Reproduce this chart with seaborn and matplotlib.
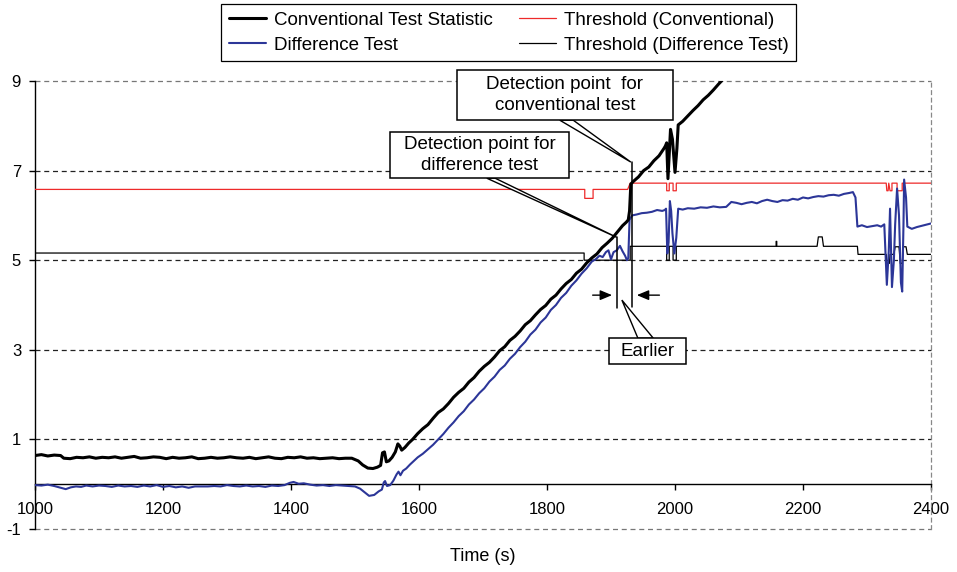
import matplotlib
matplotlib.use("Agg")
import matplotlib.pyplot as plt
import seaborn as sns
from matplotlib.patches import Rectangle, Polygon

# ---- Conventional test statistic ----
conv_t = [1000, 1010, 1020, 1030, 1040, 1045, 1055, 1065, 1075, 1085, 1095, 1105, 1115,
          1125, 1135, 1145, 1155, 1165, 1175, 1185, 1195, 1205, 1215, 1225, 1235, 1245,
          1255, 1265, 1275, 1285, 1295, 1305, 1315, 1325, 1335, 1345, 1355, 1365, 1375,
          1385, 1395, 1405, 1415, 1425, 1435, 1445, 1455, 1465, 1475, 1485, 1495, 1505,
          1512, 1520, 1528, 1535, 1540, 1543, 1546, 1549, 1553, 1558, 1563, 1567, 1570,
          1573, 1578, 1584, 1590, 1598, 1606, 1614, 1622, 1630, 1638, 1646, 1654, 1662,
          1670, 1678, 1686, 1694, 1702, 1710, 1718, 1726, 1734, 1742, 1750, 1758, 1766,
          1774, 1782, 1790, 1798, 1806, 1814, 1822, 1830, 1838, 1846, 1854, 1862, 1870,
          1878, 1886, 1894, 1902, 1910, 1918, 1924, 1927, 1929, 1931, 1935, 1943, 1951,
          1959, 1967, 1975, 1983, 1985, 1987, 1989, 1991, 1993, 1996, 2000, 2003, 2005,
          2012, 2020, 2028, 2036, 2044, 2052, 2060, 2068, 2076, 2090]
conv_v = [0.64, 0.66, 0.63, 0.65, 0.64, 0.58, 0.57, 0.60, 0.59, 0.61, 0.58, 0.60, 0.59,
          0.61, 0.58, 0.60, 0.62, 0.58, 0.59, 0.61, 0.60, 0.57, 0.60, 0.58, 0.59, 0.61,
          0.57, 0.58, 0.60, 0.58, 0.59, 0.61, 0.59, 0.58, 0.60, 0.57, 0.59, 0.61, 0.58,
          0.57, 0.60, 0.59, 0.61, 0.58, 0.59, 0.57, 0.58, 0.59, 0.57, 0.58, 0.58, 0.52,
          0.43, 0.36, 0.35, 0.38, 0.42, 0.70, 0.72, 0.50, 0.52, 0.60, 0.72, 0.90, 0.85,
          0.76, 0.82, 0.92, 1.00, 1.13, 1.24, 1.33, 1.47, 1.60, 1.68, 1.80, 1.94, 2.05,
          2.14, 2.28, 2.38, 2.52, 2.63, 2.72, 2.84, 2.98, 3.07, 3.21, 3.30, 3.42, 3.56,
          3.65, 3.78, 3.90, 3.99, 4.13, 4.22, 4.36, 4.48, 4.57, 4.71, 4.80, 4.94, 5.05,
          5.14, 5.28, 5.38, 5.49, 5.63, 5.77, 5.85, 5.90, 6.10, 6.70, 6.76, 6.86, 7.00,
          7.08, 7.22, 7.33, 7.50, 7.55, 7.62, 6.82, 7.35, 7.92, 7.70, 6.96, 7.50, 8.02,
          8.10, 8.22, 8.34, 8.45, 8.58, 8.68, 8.80, 8.93, 9.05, 9.25]

# ---- Difference test statistic ----
diff_t = [1000, 1010, 1020, 1030, 1040, 1048, 1056, 1064, 1072, 1080, 1090, 1100, 1110,
          1120, 1130, 1140, 1150, 1160, 1170, 1180, 1190, 1200, 1210, 1220, 1230, 1240,
          1250, 1260, 1270, 1280, 1290, 1300, 1310, 1320, 1330, 1340, 1350, 1360, 1370,
          1380, 1390, 1398, 1404, 1412, 1420, 1430, 1440, 1450, 1460, 1470, 1480, 1490,
          1500, 1508, 1515, 1522, 1530, 1537, 1542, 1545, 1547, 1550, 1555, 1560, 1565,
          1568, 1571, 1575, 1580, 1586, 1592, 1598, 1606, 1614, 1622, 1630, 1638, 1646,
          1654, 1662, 1670, 1678, 1686, 1694, 1702, 1710, 1718, 1726, 1734, 1742, 1750,
          1758, 1766, 1774, 1782, 1790, 1798, 1806, 1814, 1822, 1830, 1838, 1846, 1854,
          1862, 1870, 1876, 1882, 1887, 1892, 1896, 1900, 1904, 1909, 1914, 1918, 1922,
          1925, 1927, 1929, 1933, 1940, 1948, 1956, 1964, 1972, 1980, 1984, 1986, 1988,
          1990, 1992, 1994, 1996, 1999, 2002, 2005, 2012, 2020, 2030, 2040, 2050, 2060,
          2070, 2080, 2088, 2096, 2104, 2112, 2120, 2128, 2136, 2144, 2152, 2160, 2168,
          2176, 2184, 2192, 2200, 2208, 2216, 2224, 2232, 2240, 2248, 2256, 2264, 2272,
          2278, 2282, 2285, 2292, 2300, 2308, 2316, 2322, 2327, 2331, 2334, 2336, 2339,
          2342, 2344, 2347, 2350, 2353, 2355, 2357, 2358, 2361, 2363, 2370, 2378, 2386,
          2394, 2400]
diff_v = [-0.02, -0.03, -0.01, -0.04, -0.08, -0.11, -0.07, -0.05, -0.06, -0.03, -0.05,
          -0.03, -0.04, -0.06, -0.03, -0.05, -0.04, -0.06, -0.03, -0.05, -0.02, -0.06,
          -0.04, -0.07, -0.05, -0.08, -0.05, -0.05, -0.05, -0.04, -0.05, -0.02, -0.04,
          -0.05, -0.03, -0.05, -0.04, -0.06, -0.03, -0.04, -0.02, 0.03, 0.05, 0.01, 0.02,
          -0.01, -0.03, -0.02, -0.04, -0.02, -0.03, -0.04, -0.05, -0.10, -0.18, -0.26,
          -0.24, -0.16, -0.12, 0.04, 0.07, -0.04, -0.02, 0.08, 0.22, 0.28, 0.20, 0.30,
          0.35, 0.44, 0.52, 0.60, 0.68, 0.78, 0.88, 1.00, 1.12, 1.26, 1.38, 1.52, 1.63,
          1.78, 1.89, 2.03, 2.14, 2.29, 2.40, 2.55, 2.65, 2.80, 2.91, 3.06, 3.18, 3.34,
          3.45, 3.61, 3.72, 3.89, 4.00, 4.16, 4.27, 4.43, 4.55, 4.70, 4.82, 4.97, 5.02,
          5.10, 5.07, 5.18, 5.22, 5.02, 5.18, 5.22, 5.32, 5.20, 5.10, 5.00, 5.05, 5.90,
          6.00, 6.02, 6.05, 6.06, 6.08, 6.12, 6.10, 6.12, 6.15, 5.15, 5.40, 6.32, 6.10,
          5.60, 5.15, 5.50, 6.15, 6.13, 6.16, 6.15, 6.18, 6.17, 6.20, 6.18, 6.19, 6.30,
          6.28, 6.25, 6.28, 6.30, 6.27, 6.32, 6.35, 6.32, 6.30, 6.34, 6.33, 6.37, 6.35,
          6.40, 6.38, 6.41, 6.43, 6.42, 6.45, 6.46, 6.44, 6.48, 6.50, 6.52, 6.40, 5.75,
          5.78, 5.74, 5.76, 5.78, 5.75, 5.80, 4.45, 5.20, 6.15, 4.40, 5.00, 5.80, 6.60,
          6.00, 4.50, 4.30, 5.80, 6.80, 6.40, 5.75, 5.70, 5.74, 5.77, 5.80, 5.82]

# ---- Threshold for the conventional test ----
thr_conv_t = [1000, 1859, 1859, 1872, 1872, 1926, 1930, 1987, 1987, 1991, 1991, 1997,
              1997, 2002, 2002, 2330, 2331, 2333, 2334, 2336, 2339, 2339, 2347, 2347,
              2355, 2355, 2400]
thr_conv_v = [6.58, 6.58, 6.38, 6.38, 6.58, 6.58, 6.72, 6.72, 6.55, 6.55, 6.72, 6.72,
              6.55, 6.55, 6.72, 6.72, 6.55, 6.55, 6.72, 6.55, 6.55, 6.72, 6.72, 6.55,
              6.55, 6.72, 6.72]

# ---- Threshold for the difference test ----
thr_diff_t = [1000, 1858, 1858, 1930, 1930, 1987, 1987, 1991, 1991, 1997, 1997, 2002,
              2002, 2158, 2158, 2159, 2159, 2222, 2224, 2230, 2232, 2285, 2286, 2330,
              2331, 2335, 2336, 2342, 2344, 2350, 2352, 2355, 2357, 2361, 2363, 2400]
thr_diff_v = [5.16, 5.16, 5.00, 5.00, 5.31, 5.31, 5.00, 5.00, 5.31, 5.31, 5.00, 5.00,
              5.31, 5.31, 5.42, 5.42, 5.31, 5.31, 5.52, 5.52, 5.31, 5.31, 5.13, 5.13,
              4.93, 4.93, 5.13, 5.13, 5.30, 5.30, 4.93, 4.93, 5.30, 5.30, 5.13, 5.13]

labels = ["Conventional Test Statistic", "Difference Test",
          "Threshold (Conventional)", "Threshold (Difference Test)"]
x_ticks = [1000, 1200, 1400, 1600, 1800, 2000, 2200, 2400]
y_ticks = [-1, 1, 3, 5, 7, 9]

sns.set_theme(style="white")
plt.rcParams["font.family"] = ["Liberation Sans", "DejaVu Sans"]
plt.rcParams["axes.unicode_minus"] = False
plt.rcParams["text.color"] = "black"
plt.rcParams["axes.labelcolor"] = "black"

fig = plt.figure(figsize=(9.57, 5.72), dpi=100)
ax = fig.add_axes([35 / 957, 43 / 572, 896 / 957, 448 / 572])

BLUE = "#2c3698"
RED = "#ee2a2a"

sns.lineplot(x=thr_conv_t, y=thr_conv_v, sort=False, estimator=None, ax=ax,
             color=RED, lw=0.9, label=labels[2], zorder=3)
sns.lineplot(x=thr_diff_t, y=thr_diff_v, sort=False, estimator=None, ax=ax,
             color="black", lw=0.9, label=labels[3], zorder=3)
sns.lineplot(x=diff_t, y=diff_v, sort=False, estimator=None, ax=ax,
             color=BLUE, lw=1.5, label=labels[1], zorder=4)
sns.lineplot(x=conv_t, y=conv_v, sort=False, estimator=None, ax=ax,
             color="black", lw=2.2, label=labels[0], zorder=5)

ax.set_xlim(1000, 2400)
ax.set_ylim(-1, 9)
ax.set_xticks(x_ticks)
ax.set_xticklabels([str(v) for v in x_ticks])
ax.set_yticks(y_ticks)
ax.set_yticklabels([str(v) for v in y_ticks])

# dashed reference lines at the odd levels
for yv in y_ticks:
    edge = yv in (y_ticks[0], y_ticks[-1])
    ax.hlines(yv, 1000, 2400, colors="#777777" if edge else "#222222",
              linestyles=(0, (4, 3)), lw=0.9, clip_on=False, zorder=1)

ax.spines["top"].set_visible(False)
ax.spines["right"].set_linestyle((0, (3, 3)))
ax.spines["right"].set_color("#888888")
ax.spines["right"].set_linewidth(0.9)
ax.spines["left"].set_color("black")
ax.spines["left"].set_linewidth(1.0)
ax.spines["bottom"].set_position(("data", 0))
ax.spines["bottom"].set_color("black")
ax.spines["bottom"].set_linewidth(1.0)

ax.tick_params(axis="x", direction="out", length=4, width=1, color="black",
               labelcolor="black", labelsize=12, pad=8.5, bottom=True)
ax.tick_params(axis="y", direction="out", length=4, width=1, color="black",
               labelcolor="black", labelsize=12, pad=6, left=True)

ax.set_xlabel("Time (s)", fontsize=13, color="black")
ax.xaxis.set_label_coords(0.5, -0.042)
ax.set_ylabel("")

# legend above the plot, two columns
handles, labs = ax.get_legend_handles_labels()
order = [labs.index(l) for l in labels]
leg = ax.legend([handles[i] for i in order], [labs[i] for i in order], ncol=2,
                loc="lower left", bbox_to_anchor=(0.2076, 1.0446), borderaxespad=0,
                frameon=True, fancybox=False, edgecolor="black", framealpha=1,
                fontsize=13.5, handlelength=2.0, handletextpad=0.4, columnspacing=1.4,
                borderpad=0.4, labelspacing=0.42, labelcolor="black")
leg.get_frame().set_linewidth(0.9)

# ---- callouts ----
ann_kw = dict(color="black", lw=1.1, zorder=8, clip_on=False)

# detection markers
ax.plot([1909, 1909], [3.93, 5.51], **ann_kw)
ax.plot([1933, 1933], [3.95, 7.19], **ann_kw)

# "Earlier" arrows
arrow_kw = dict(arrowstyle="-|>,head_length=0.6,head_width=0.25", color="black", lw=1.0)
ax.annotate("", xy=(1906, 4.22), xytext=(1867, 4.22), arrowprops=arrow_kw, zorder=8)
ax.annotate("", xy=(1936, 4.22), xytext=(1980, 4.22), arrowprops=arrow_kw, zorder=8)

wedges = [
    [(1820, 8.125), (1841, 8.125), (1931, 7.19)],
    [(1706, 6.83), (1719, 6.83), (1909, 5.51)],
    [(1942, 3.26), (1966, 3.26), (1917, 4.11)],
]
for w in wedges:
    ax.add_patch(Polygon(w, closed=True, fc="white", ec="black", lw=1.0,
                         zorder=9, clip_on=False))

boxes = [
    ((1659, 8.125), 338, 1.115, "Detection point  for\nconventional test"),
    ((1555, 6.83), 279, 1.027, "Detection point for\ndifference test"),
    ((1897, 2.68), 120, 0.58, "Earlier"),
]
for (x0, y0), w, h, txt in boxes:
    ax.add_patch(Rectangle((x0, y0), w, h, fc="white", ec="black", lw=1.1,
                           zorder=10, clip_on=False))
    ax.text(x0 + w / 2, y0 + h / 2, txt, ha="center", va="center", fontsize=13.5,
            color="black", linespacing=1.3, zorder=11, clip_on=False)

fig.savefig("out.png", dpi=100)
